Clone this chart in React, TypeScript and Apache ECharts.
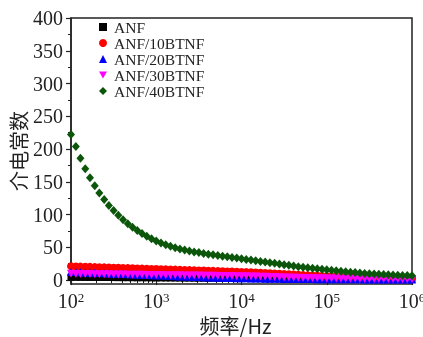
import React, { useEffect, useRef } from "react";
import * as echarts from "echarts";

const seriesNames = ["ANF", "ANF/10BTNF", "ANF/20BTNF", "ANF/30BTNF", "ANF/40BTNF"];

const frequencies = [
  100, 114, 129, 147, 167, 190, 215, 245, 278, 316, 359, 408, 464, 527, 599, 681, 774, 880,
  1000, 1136, 1292, 1468, 1668, 1896, 2154, 2448, 2783, 3162, 3594, 4084, 4642, 5275, 5995, 6813, 7743, 8799,
  10000, 11365, 12915, 14678, 16681, 18957, 21544, 24484, 27826, 31623, 35938, 40842, 46416, 52749, 59948, 68129, 77426, 87992,
  100000, 113650, 129150, 146780, 166810, 189570, 215440, 244840, 278260, 316230, 359380, 408420, 464160, 527490, 599480, 681290, 774260, 879920,
  1000000,
];

const anf = [
  4.5, 4.4, 4.3, 4.2, 4.1, 4.1, 4, 3.9, 3.9, 3.8, 3.7, 3.7, 3.6, 3.6, 3.5, 3.5, 3.4, 3.4, 3.3,
  3.3, 3.2, 3.2, 3.1, 3.1, 3, 3, 2.9, 2.9, 2.8, 2.8, 2.7, 2.7, 2.6, 2.6, 2.5, 2.5, 2.4,
  2.4, 2.3, 2.3, 2.2, 2.2, 2.1, 2.1, 2, 2, 1.9, 1.9, 1.8, 1.8, 1.7, 1.7, 1.6, 1.6, 1.5,
  1.5, 1.5, 1.4, 1.4, 1.4, 1.3, 1.3, 1.3, 1.2, 1.2, 1.2, 1.1, 1.1, 1.1, 1, 1, 1, 1,
];

const anf10 = [
  21, 20.8, 20.5, 20.3, 20.1, 19.8, 19.6, 19.4, 19.1, 18.9, 18.7, 18.4, 18.2, 18, 17.7, 17.5, 17.3, 17, 16.8,
  16.6, 16.3, 16.1, 15.9, 15.6, 15.4, 15.2, 14.9, 14.7, 14.5, 14.2, 14, 13.7, 13.5, 13.2, 13, 12.7, 12.4,
  12.1, 11.8, 11.5, 11.1, 10.8, 10.4, 10, 9.6, 9.2, 8.8, 8.4, 8, 7.6, 7.2, 6.9, 6.5, 6.2, 5.9,
  5.6, 5.3, 5.1, 4.8, 4.6, 4.4, 4.2, 4, 3.9, 3.7, 3.6, 3.5, 3.4, 3.3, 3.2, 3.1, 3.0, 2.9,
];

const anf20 = [
  12.5, 12.2, 11.9, 11.6, 11.3, 11, 10.7, 10.4, 10.1, 9.8, 9.5, 9.2, 8.9, 8.6, 8.3, 8, 7.7, 7.4, 7.1,
  6.8, 6.5, 6.2, 5.9, 5.6, 5.3, 5.1, 4.8, 4.6, 4.3, 4.1, 3.9, 3.7, 3.5, 3.3, 3.1, 2.9, 2.7,
  2.6, 2.5, 2.4, 2.3, 2.2, 2.1, 2, 1.9, 1.8, 1.8, 1.7, 1.6, 1.6, 1.5, 1.5, 1.4, 1.4, 1.3,
  1.3, 1.2, 1.2, 1.2, 1.1, 1.1, 1.1, 1, 1, 1, 1, 0.9, 0.9, 0.9, 0.9, 0.9, 0.8, 0.8,
];

const anf30 = [
  9.5, 9.4, 9.3, 9.2, 9.1, 9, 8.9, 8.8, 8.7, 8.6, 8.5, 8.4, 8.3, 8.2, 8.1, 8, 7.9, 7.8, 7.7,
  7.6, 7.5, 7.4, 7.3, 7.2, 7.1, 7, 6.9, 6.8, 6.7, 6.6, 6.5, 6.4, 6.3, 6.2, 6.1, 6, 5.9,
  5.7, 5.5, 5.3, 5.1, 4.9, 4.7, 4.5, 4.3, 4.1, 3.9, 3.7, 3.5, 3.3, 3.1, 2.9, 2.8, 2.6, 2.5,
  2.4, 2.3, 2.2, 2.1, 2, 1.9, 1.8, 1.8, 1.7, 1.6, 1.6, 1.5, 1.5, 1.4, 1.4, 1.3, 1.3, 1.2,
];

const anf40 = [
  222, 204, 186, 170, 156, 144, 133, 123, 114, 106, 99, 92, 86, 80.5, 75.5, 71, 67, 63, 59.5,
  56.5, 54, 51.5, 49.5, 47.5, 46, 44.5, 43, 42, 40.5, 39.5, 38.5, 37.5, 36.5, 35.5, 34.5, 33.5, 32.5,
  31.5, 30.5, 29.5, 28.5, 27.5, 26.5, 25.5, 24.5, 23.5, 22.5, 21.5, 20.5, 19.5, 18.8, 18, 17.2, 16.5, 15.8,
  15, 14.2, 13.5, 12.8, 12, 11.4, 10.8, 10.2, 9.7, 9.2, 8.8, 8.4, 8, 7.7, 7.4, 7.1, 6.9, 6.7,
];

const yTicks = [0, 50, 100, 150, 200, 250, 300, 350, 400];
const yMinorTicks = [25, 75, 125, 175, 225, 275, 325, 375];
const xTicks = [100, 1000, 10000, 100000, 1000000];
const xMinorTicks = [
  200, 300, 400, 500, 600, 700, 800, 900,
  2000, 3000, 4000, 5000, 6000, 7000, 8000, 9000,
  20000, 30000, 40000, 50000, 60000, 70000, 80000, 90000,
  200000, 300000, 400000, 500000, 600000, 700000, 800000, 900000,
];

const serif = "Liberation Serif";
const cjk = "Noto Sans CJK SC";
const ink = "#222";

export default function App() {
  const ref = useRef<HTMLDivElement>(null);
  useEffect(() => {
    const chart = echarts.init(ref.current!, null, { renderer: "svg" });
    const lists = [anf, anf10, anf20, anf30, anf40];
    const symbols = ["rect", "circle", "triangle", "path://M0,0L10,0L5,9Z", "diamond"];
    const sizes: any[] = [7, 8, 8, 8, [8, 9]];
    const colors = ["#000000", "#ff0000", "#0000ff", "#ff00ff", "#0b560b"];
    const axisLine = { show: true, lineStyle: { color: ink, width: 1.5 } };
    chart.setOption({
      animation: false,
      grid: {
        left: 71, right: 11, top: 18, bottom: 53,
        containLabel: false, outerBoundsMode: "none",
        show: true, borderColor: ink, borderWidth: 1.5, backgroundColor: "transparent",
      },
      legend: {
        orient: "vertical", left: 94, top: 14,
        itemWidth: 8, itemHeight: 8, itemGap: 0,
        data: seriesNames,
        textStyle: { fontFamily: serif, fontSize: 15.5, lineHeight: 15.75, color: ink, padding: [0, 0, 0, 2] },
      },
      xAxis: [
        {
          type: "log", logBase: 10, min: 100, max: 1000000,
          axisLine,
          axisTick: { customValues: xTicks, length: 5, lineStyle: { color: ink, width: 1.2 } },
          axisLabel: {
            customValues: xTicks, margin: 7, hideOverlap: false,
            formatter: (v: number) => `{b|10}{s|${Math.round(Math.log10(v))}}`,
            rich: {
              b: { fontFamily: serif, fontSize: 20, color: ink },
              s: { fontFamily: serif, fontSize: 13, color: ink, verticalAlign: "top" },
            },
          },
          splitLine: { show: false },
          name: "频率/Hz", nameLocation: "middle", nameGap: 30,
          nameTextStyle: { fontFamily: cjk, fontSize: 20, color: ink, padding: [0, 12, 0, 0] },
        },
        {
          type: "log", logBase: 10, min: 100, max: 1000000, position: "bottom",
          axisLine: { show: false },
          axisTick: { customValues: xMinorTicks, length: 3, lineStyle: { color: ink, width: 1 } },
          axisLabel: { show: false },
          splitLine: { show: false },
        },
      ],
      yAxis: [
        {
          type: "value", min: -6, max: 400,
          axisLine,
          axisTick: { customValues: yTicks, length: 5, lineStyle: { color: ink, width: 1.2 } },
          axisLabel: { customValues: yTicks, margin: 8, fontFamily: serif, fontSize: 20, color: ink },
          splitLine: { show: false },
          name: "介电常数", nameLocation: "middle", nameGap: 43, nameMoveOverlap: false,
          nameTextStyle: { fontFamily: cjk, fontSize: 20, color: ink },
        },
        {
          type: "value", min: -6, max: 400, position: "left",
          axisLine: { show: false },
          axisTick: { customValues: yMinorTicks, length: 3, lineStyle: { color: ink, width: 1 } },
          axisLabel: { show: false },
          splitLine: { show: false },
        },
      ],
      series: seriesNames.map((name, i) => ({
        name,
        type: "scatter",
        xAxisIndex: 0,
        yAxisIndex: 0,
        symbol: symbols[i],
        symbolSize: sizes[i],
        itemStyle: { color: colors[i], opacity: 1 },
        data: frequencies.map((f, k) => [f, lists[i][k]]),
      })),
    });
    return () => chart.dispose();
  }, []);
  return <div ref={ref} style={{ position: "fixed", left: 0, top: 0, width: 423, height: 337 }} />;
}
